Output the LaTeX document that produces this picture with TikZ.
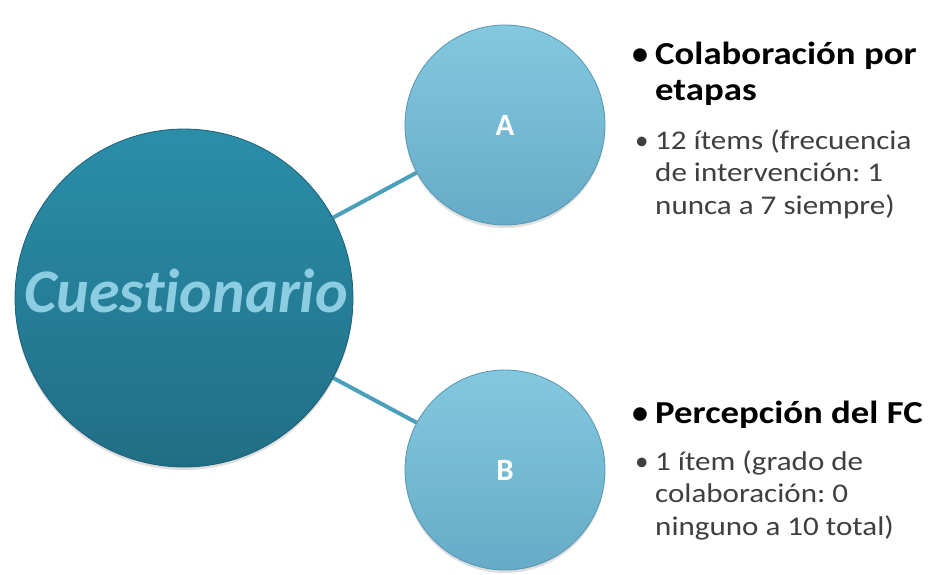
\documentclass[tikz,border=0pt]{standalone}
\usepackage{fontspec}
\setmainfont{Carlito}
\newfontfamily\stretchfont[FakeStretch=1.15]{Carlito}
\newfontfamily\cuestfont[Ligatures=NoCommon]{Carlito}
\usetikzlibrary{shadows,backgrounds}
\frenchspacing
\definecolor{bigtop}{HTML}{2B8EA9}
\definecolor{bigbot}{HTML}{206E86}
\definecolor{bigrim}{HTML}{1B5F75}
\definecolor{smalltop}{HTML}{84C8DF}
\definecolor{smallbot}{HTML}{66ABC7}
\definecolor{smallrim}{HTML}{5596B0}
\definecolor{linkcol}{HTML}{4A9FBA}
\definecolor{cuestcol}{HTML}{8CCDE2}
\definecolor{bodycol}{HTML}{3F3F3F}
\tikzset{
  bigcircle/.style={circle, minimum size=338pt, inner sep=0pt, top color=bigtop, bottom color=bigbot, draw=bigrim, line width=0.8pt,
    drop shadow={opacity=0.25, shadow xshift=0pt, shadow yshift=-3pt}},
  smallcircle/.style={circle, minimum size=200pt, inner sep=0pt, top color=smalltop, bottom color=smallbot, draw=smallrim, line width=0.8pt,
    drop shadow={opacity=0.25, shadow xshift=0pt, shadow yshift=-3pt}},
  letter/.style={inner sep=0pt, text=white, font=\fontsize{31}{34}\selectfont\bfseries},
  link/.style={draw=linkcol, line width=4pt},
  titletext/.style={anchor=base west, inner sep=0pt, text=black,
    font=\stretchfont\fontsize{32}{36}\selectfont\bfseries},
  bodytext/.style={anchor=base west, inner sep=0pt, text=bodycol,
    font=\stretchfont\fontsize{27}{32}\selectfont},
  titlebullet/.style={anchor=base west, inner sep=0pt, text=black, font=\fontsize{32}{36}\selectfont\bfseries},
  bodybullet/.style={anchor=base west, inner sep=0pt, text=bodycol, font=\fontsize{27}{32}\selectfont},
}
\begin{document}
\begin{tikzpicture}[x=1pt,y=-1pt]
\useasboundingbox (0,0) rectangle (935,574);
\node[bigcircle] (Q) at (184,298) {};
\node[anchor=base, inner sep=0pt, text=cuestcol, font=\cuestfont\fontsize{62}{70}\selectfont\bfseries\itshape] (Qt) at (186,312) {Cuestionario};
\node[smallcircle] (A) at (505,125) {};
\node[letter] (Al) at (A) {A};
\node[smallcircle] (B) at (505,470) {};
\node[letter] (Bl) at (B) {B};
\begin{scope}[on background layer]
\fill[white] (0,0) rectangle (935,574);
\draw[link] (Q) -- (A);
\draw[link] (Q) -- (B);
\end{scope}
% A texts
\node[titlebullet] (bAt) at (632,64) {•};
\node[titletext] (At1) at (655,64) {Colaboración por};
\node[titletext] (At2) at (655,100) {etapas};
\node[bodybullet] (bAb) at (635,149) {•};
\node[bodytext] (Ab1) at (655,149) {12 ítems (frecuencia};
\node[bodytext] (Ab2) at (655,181.5) {de intervención: 1};
\node[bodytext] (Ab3) at (655,214) {nunca a 7 siempre)};
% B texts
\node[titlebullet] (bBt) at (632,423) {•};
\node[titletext] (Bt1) at (655,423) {Percepción del FC};
\node[bodybullet] (bBb) at (635,470) {•};
\node[bodytext] (Bb1) at (655,470) {1 ítem (grado de};
\node[bodytext] (Bb2) at (655,502.5) {colaboración: 0};
\node[bodytext] (Bb3) at (655,535) {ninguno a 10 total)};
\end{tikzpicture}
\end{document}
